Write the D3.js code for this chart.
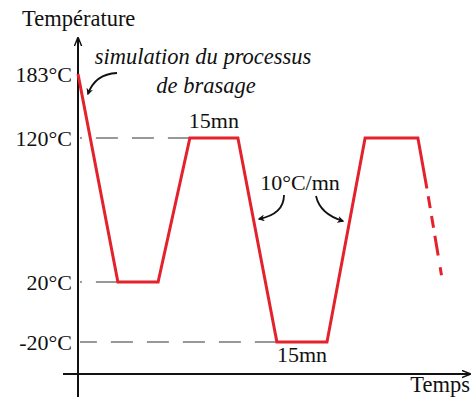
<!DOCTYPE html>
<html>
<head>
<meta charset="utf-8">
<script src="https://cdn.jsdelivr.net/npm/d3@7"></script>
<style>
  html, body { margin: 0; padding: 0; background: #fff; }
  svg { display: block; }
  text { font-family: "Liberation Serif", "Times New Roman", serif; fill: #111; }
</style>
</head>
<body>
<svg id="chart" width="471" height="408"></svg>
<script>
// ---- data (schematic thermal cycle) ----
const tickValues = [183, 120, 20, -20];
const tickLabels = ["183°C", "120°C", "20°C", "-20°C"];
const times = [0, 13.3, 26.7, 37.3, 53.3, 66.3, 83, 95.7, 113.3, 116.3];   // minutes (schematic)
const temps = [183, 20, 20, 120, 120, -20, -20, 120, 120, 85];
const tailTimes = [116.3, 121.3];
const tailTemps = [85, 23];
const guideLevels = [120, 20, -20];
const guideEndTimes = [37.3, 13.3, 66.3];

const svg = d3.select("#chart");

const x = d3.scaleLinear().domain([0, 130]).range([78, 468]);
// schematic (non-uniform) temperature axis
const y = d3.scaleLinear().domain([-20, 20, 120, 183]).range([342, 282, 138, 74]);

const axisX = x(0);
const axisY = 374;
const FS = "22px";

// markers
const defs = svg.append("defs");
defs.append("marker").attr("id", "ah").attr("viewBox", "0 0 10 10")
  .attr("refX", 8).attr("refY", 5).attr("markerWidth", 7).attr("markerHeight", 7)
  .attr("orient", "auto").attr("markerUnits", "userSpaceOnUse")
  .append("path").attr("d", "M0,0 L10,5 L0,10 L3,5 Z").attr("fill", "#111");
defs.append("marker").attr("id", "axh").attr("viewBox", "0 0 10 10")
  .attr("refX", 9).attr("refY", 5).attr("markerWidth", 9).attr("markerHeight", 9)
  .attr("orient", "auto").attr("markerUnits", "userSpaceOnUse")
  .append("path").attr("d", "M0,1 L10,5 L0,9").attr("fill", "none").attr("stroke", "#111").attr("stroke-width", 1.6);

// dashed guide lines (drawn from the curve back to the axis)
svg.append("g").selectAll("line").data(guideLevels).join("line")
  .attr("x1", (d, i) => x(guideEndTimes[i])).attr("x2", axisX + 2)
  .attr("y1", d => y(d)).attr("y2", d => y(d))
  .attr("stroke", "#333").attr("stroke-width", 1.2)
  .attr("stroke-dasharray", "22,14");

// axes
svg.append("line").attr("x1", axisX).attr("x2", axisX).attr("y1", 397).attr("y2", 38)
  .attr("stroke", "#111").attr("stroke-width", 2).attr("marker-end", "url(#axh)");
svg.append("line").attr("x1", 63).attr("x2", 470).attr("y1", axisY).attr("y2", axisY)
  .attr("stroke", "#111").attr("stroke-width", 2).attr("marker-end", "url(#axh)");

const yAxis = d3.axisLeft(y).tickValues(tickValues)
  .tickFormat((d, i) => tickLabels[i]).tickSize(0).tickPadding(6);
const gy = svg.append("g").attr("transform", `translate(${axisX},0)`).call(yAxis);
gy.select(".domain").remove();
gy.selectAll("text").style("font-size", FS).attr("fill", "#111")
  .style("font-family", "'Liberation Serif', 'Times New Roman', serif");

// red curve
const line = d3.line().x(d => x(d[0])).y(d => y(d[1]));
svg.append("path").datum(times.map((t, i) => [t, temps[i]]))
  .attr("d", line).attr("fill", "none").attr("stroke", "#e3222b")
  .attr("stroke-width", 3).attr("stroke-linejoin", "miter");
svg.append("path").datum(tailTimes.map((t, i) => [t, tailTemps[i]]))
  .attr("d", line).attr("fill", "none").attr("stroke", "#e3222b")
  .attr("stroke-width", 3).attr("stroke-dasharray", "0,8,12,8,12,8,12");

// labels
svg.append("text").attr("x", 22).attr("y", 26).style("font-size", "22.5px").text("Température");
svg.append("text").attr("x", 470).attr("y", 392).attr("text-anchor", "end").style("font-size", "22.5px").text("Temps");

svg.append("text").attr("x", 203).attr("y", 64).attr("text-anchor", "middle")
  .style("font-size", "22.5px").style("font-style", "italic").text("simulation du processus");
svg.append("text").attr("x", 206).attr("y", 93).attr("text-anchor", "middle")
  .style("font-size", "22.5px").style("font-style", "italic").text("de brasage");

svg.append("text").attr("x", (x(37.3) + x(53.3)) / 2).attr("y", y(120) - 10)
  .attr("text-anchor", "middle").style("font-size", FS).text("15mn");
svg.append("text").attr("x", (x(66.3) + x(83)) / 2).attr("y", y(-20) + 20)
  .attr("text-anchor", "middle").style("font-size", FS).text("15mn");
svg.append("text").attr("x", 300).attr("y", 190)
  .attr("text-anchor", "middle").style("font-size", FS).text("10°C/mn");

// curved annotation arrows
const arrows = [
  "M117,73 Q95,74 88,94",
  "M284,195 Q284,214 259,219",
  "M316,196 Q320,214 343,221"
];
svg.append("g").selectAll("path").data(arrows).join("path")
  .attr("d", d => d).attr("fill", "none").attr("stroke", "#111")
  .attr("stroke-width", 1.8).attr("marker-end", "url(#ah)");
</script>
</body>
</html>
